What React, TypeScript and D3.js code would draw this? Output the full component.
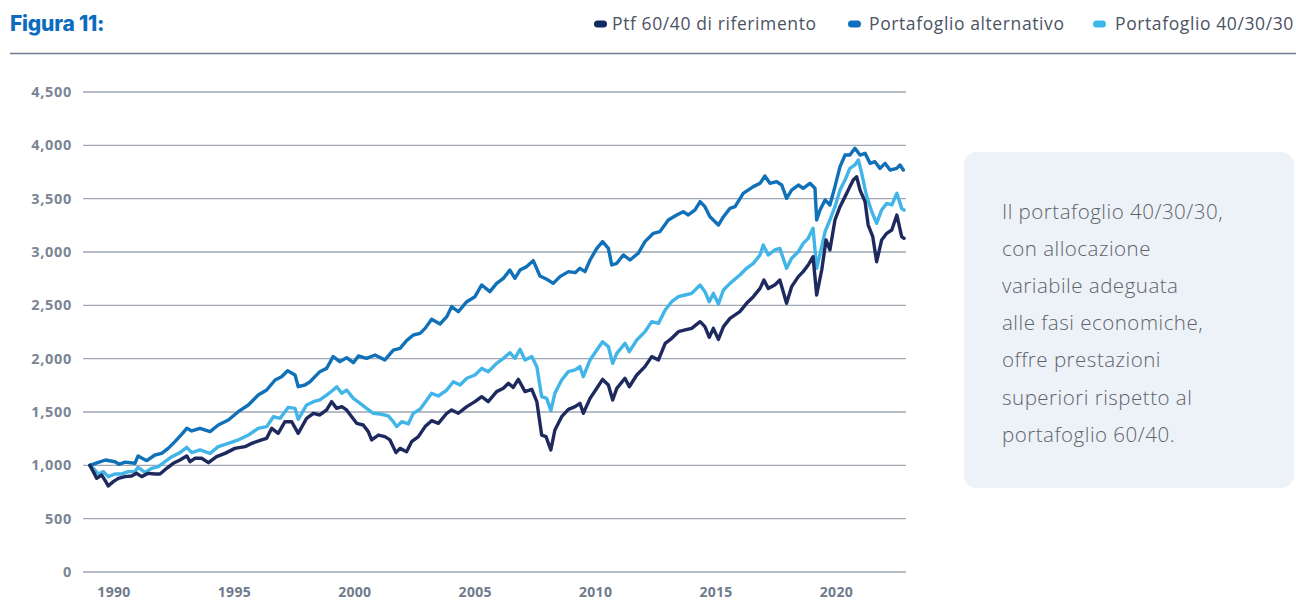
import React from 'react';
import * as d3 from 'd3';

const title = 'Figura 11:';
const seriesNames = ['Ptf 60/40 di riferimento', 'Portafoglio alternativo', 'Portafoglio 40/30/30'];
const seriesColors = ['#1e2a5e', '#1070b8', '#42b5e8'];
const legendColors = ['#13295f', '#0f6fbe', '#3bb8ee'];
const yTicks = [0, 500, 1000, 1500, 2000, 2500, 3000, 3500, 4000, 4500];
const xTicks = [1990, 1995, 2000, 2005, 2010, 2015, 2020];
const noteLines = [
  'Il portafoglio 40/30/30,',
  'con allocazione',
  'variabile adeguata',
  'alle fasi economiche,',
  'offre prestazioni',
  'superiori rispetto al',
  'portafoglio 60/40.',
];

// [decimal year, value]
const p6040: [number, number][] = [
  [1989.0, 1000], [1989.14, 941], [1989.28, 878], [1989.49, 909], [1989.66, 847], [1989.76, 806],
  [1989.97, 847], [1990.18, 878], [1990.46, 894], [1990.73, 900], [1990.94, 925], [1991.15, 894],
  [1991.42, 925], [1991.7, 919], [1991.91, 919], [1992.19, 972], [1992.46, 1019], [1992.74, 1050],
  [1993.02, 1088], [1993.16, 1034], [1993.36, 1066], [1993.64, 1066], [1993.92, 1025], [1994.26, 1081],
  [1994.61, 1112], [1995.02, 1159], [1995.44, 1175], [1995.72, 1206], [1996.13, 1238], [1996.34, 1253],
  [1996.55, 1347], [1996.82, 1300], [1997.1, 1409], [1997.38, 1409], [1997.65, 1300], [1998.0, 1441],
  [1998.28, 1488], [1998.55, 1472], [1998.83, 1519], [1999.04, 1597], [1999.25, 1534], [1999.46, 1550],
  [1999.66, 1519], [1999.87, 1456], [2000.08, 1394], [2000.35, 1378], [2000.56, 1316], [2000.7, 1238],
  [2000.98, 1284], [2001.25, 1269], [2001.46, 1238], [2001.71, 1119], [2001.88, 1159], [2002.15, 1128],
  [2002.36, 1222], [2002.64, 1269], [2002.92, 1363], [2003.19, 1419], [2003.47, 1394], [2003.82, 1488],
  [2004.02, 1519], [2004.3, 1488], [2004.65, 1550], [2004.99, 1597], [2005.27, 1644], [2005.54, 1597],
  [2005.89, 1691], [2006.17, 1722], [2006.38, 1769], [2006.58, 1731], [2006.79, 1806], [2007.07, 1691],
  [2007.35, 1713], [2007.56, 1597], [2007.76, 1284], [2007.94, 1269], [2008.14, 1144], [2008.31, 1331],
  [2008.59, 1456], [2008.87, 1525], [2009.15, 1550], [2009.35, 1581], [2009.49, 1488], [2009.77, 1628],
  [2010.05, 1722], [2010.29, 1806], [2010.53, 1753], [2010.71, 1613], [2010.88, 1722], [2011.22, 1816],
  [2011.4, 1737], [2011.71, 1847], [2012.05, 1925], [2012.33, 2019], [2012.61, 1988], [2012.89, 2144],
  [2013.16, 2191], [2013.44, 2253], [2013.72, 2269], [2013.99, 2284], [2014.34, 2347], [2014.54, 2300],
  [2014.72, 2200], [2014.89, 2284], [2015.1, 2181], [2015.31, 2300], [2015.58, 2378], [2015.99, 2441],
  [2016.27, 2519], [2016.55, 2581], [2016.83, 2659], [2016.99, 2738], [2017.17, 2659], [2017.44, 2691],
  [2017.65, 2738], [2017.93, 2519], [2018.14, 2675], [2018.42, 2769], [2018.62, 2816], [2018.83, 2878],
  [2019.03, 2956], [2019.18, 2597], [2019.39, 2831], [2019.57, 3113], [2019.73, 3019], [2019.94, 3300],
  [2020.15, 3425], [2020.36, 3519], [2020.56, 3613], [2020.7, 3675], [2020.84, 3706], [2020.98, 3581],
  [2021.19, 3472], [2021.32, 3253], [2021.51, 3144], [2021.67, 2909], [2021.88, 3113], [2022.09, 3175],
  [2022.3, 3206], [2022.51, 3347], [2022.71, 3144], [2022.81, 3128],
];

const alternativo: [number, number][] = [
  [1989.0, 1000], [1989.35, 1028], [1989.65, 1050], [1990.04, 1034], [1990.2, 1010], [1990.46, 1030],
  [1990.87, 1019], [1991.0, 1088], [1991.36, 1044], [1991.7, 1097], [1991.98, 1112], [1992.25, 1159],
  [1992.53, 1222], [1992.81, 1290], [1993.02, 1347], [1993.23, 1322], [1993.57, 1347], [1993.99, 1316],
  [1994.33, 1378], [1994.75, 1425], [1995.16, 1503], [1995.58, 1566], [1995.99, 1659], [1996.34, 1706],
  [1996.69, 1800], [1996.96, 1831], [1997.21, 1887], [1997.52, 1847], [1997.65, 1737], [1997.93, 1753],
  [1998.14, 1784], [1998.55, 1878], [1998.83, 1909], [1999.1, 2019], [1999.38, 1972], [1999.66, 2009],
  [1999.94, 1963], [2000.15, 2025], [2000.49, 2003], [2000.84, 2034], [2001.25, 1988], [2001.6, 2081],
  [2001.88, 2097], [2002.15, 2169], [2002.43, 2222], [2002.71, 2237], [2002.92, 2284], [2003.19, 2369],
  [2003.54, 2325], [2003.82, 2394], [2004.02, 2488], [2004.3, 2440], [2004.65, 2534], [2004.99, 2581],
  [2005.27, 2691], [2005.61, 2628], [2005.89, 2706], [2006.17, 2753], [2006.44, 2831], [2006.65, 2753],
  [2006.86, 2831], [2007.14, 2863], [2007.41, 2919], [2007.69, 2775], [2007.97, 2744], [2008.24, 2706],
  [2008.52, 2769], [2008.87, 2816], [2009.15, 2806], [2009.35, 2847], [2009.56, 2816], [2009.77, 2925],
  [2010.05, 3034], [2010.29, 3097], [2010.53, 3034], [2010.67, 2878], [2010.88, 2894], [2011.15, 2972],
  [2011.43, 2925], [2011.77, 2988], [2012.05, 3097], [2012.4, 3175], [2012.67, 3191], [2013.02, 3300],
  [2013.37, 3347], [2013.64, 3378], [2013.85, 3347], [2014.13, 3394], [2014.34, 3472], [2014.54, 3425],
  [2014.75, 3331], [2015.1, 3253], [2015.31, 3331], [2015.58, 3409], [2015.79, 3425], [2016.13, 3550],
  [2016.55, 3613], [2016.83, 3644], [2017.03, 3713], [2017.24, 3644], [2017.52, 3659], [2017.73, 3628],
  [2017.93, 3503], [2018.14, 3581], [2018.42, 3628], [2018.62, 3597], [2018.9, 3644], [2019.11, 3597],
  [2019.18, 3300], [2019.32, 3394], [2019.53, 3488], [2019.73, 3441], [2019.94, 3613], [2020.15, 3800],
  [2020.36, 3909], [2020.56, 3909], [2020.77, 3972], [2020.98, 3909], [2021.19, 3925], [2021.4, 3831],
  [2021.6, 3847], [2021.81, 3784], [2022.02, 3831], [2022.23, 3769], [2022.51, 3784], [2022.64, 3816],
  [2022.78, 3769],
];

const p403030: [number, number][] = [
  [1989.0, 1000], [1989.14, 972], [1989.35, 919], [1989.56, 941], [1989.76, 894], [1990.04, 919],
  [1990.32, 919], [1990.6, 941], [1990.87, 941], [1991.0, 981], [1991.29, 934], [1991.57, 972],
  [1991.84, 988], [1992.12, 1034], [1992.4, 1081], [1992.74, 1119], [1993.02, 1169], [1993.23, 1119],
  [1993.57, 1144], [1993.99, 1112], [1994.33, 1175], [1994.75, 1206], [1995.16, 1238], [1995.58, 1284],
  [1995.99, 1347], [1996.34, 1363], [1996.62, 1456], [1996.9, 1441], [1997.24, 1544], [1997.52, 1534],
  [1997.65, 1431], [1997.72, 1456], [1998.0, 1566], [1998.28, 1597], [1998.55, 1613], [1998.83, 1659],
  [1999.1, 1706], [1999.25, 1737], [1999.46, 1675], [1999.66, 1706], [1999.94, 1628], [2000.22, 1581],
  [2000.49, 1534], [2000.77, 1488], [2001.05, 1481], [2001.39, 1463], [2001.6, 1409], [2001.74, 1363],
  [2001.95, 1409], [2002.22, 1388], [2002.43, 1488], [2002.71, 1525], [2002.99, 1613], [2003.19, 1675],
  [2003.47, 1650], [2003.82, 1706], [2004.09, 1784], [2004.37, 1753], [2004.65, 1816], [2004.99, 1847],
  [2005.27, 1909], [2005.54, 1878], [2005.89, 1956], [2006.17, 2003], [2006.44, 2056], [2006.65, 2003],
  [2006.86, 2088], [2007.07, 1988], [2007.35, 2019], [2007.56, 1925], [2007.76, 1644], [2007.97, 1628],
  [2008.14, 1513], [2008.31, 1675], [2008.59, 1800], [2008.87, 1878], [2009.15, 1894], [2009.35, 1925],
  [2009.49, 1831], [2009.77, 1988], [2010.05, 2081], [2010.29, 2159], [2010.53, 2113], [2010.71, 1956],
  [2010.88, 2050], [2011.22, 2144], [2011.4, 2066], [2011.71, 2175], [2012.05, 2253], [2012.33, 2347],
  [2012.61, 2331], [2012.89, 2456], [2013.16, 2534], [2013.44, 2581], [2013.72, 2597], [2013.99, 2612],
  [2014.34, 2691], [2014.54, 2628], [2014.72, 2534], [2014.89, 2612], [2015.1, 2513], [2015.31, 2644],
  [2015.58, 2706], [2015.99, 2784], [2016.27, 2847], [2016.55, 2894], [2016.83, 2972], [2016.96, 3066],
  [2017.17, 2972], [2017.44, 3019], [2017.65, 3034], [2017.93, 2847], [2018.14, 2941], [2018.42, 3003],
  [2018.62, 3081], [2018.83, 3128], [2019.03, 3222], [2019.18, 2847], [2019.39, 3050], [2019.53, 3191],
  [2019.73, 3300], [2019.94, 3425], [2020.15, 3581], [2020.36, 3675], [2020.56, 3784], [2020.77, 3816],
  [2020.91, 3863], [2021.05, 3738], [2021.26, 3519], [2021.47, 3378], [2021.67, 3269], [2021.88, 3394],
  [2022.09, 3456], [2022.3, 3441], [2022.51, 3550], [2022.71, 3409], [2022.81, 3394],
];

const seriesData = [p6040, alternativo, p403030];

export default function App() {
  const W = 1296;
  const H = 601;
  const plotLeft = 83;
  const plotRight = 906;
  const x = d3.scaleLinear().domain([1988.713, 2022.89]).range([plotLeft, plotRight]);
  const y = d3.scaleLinear().domain([0, 4500]).range([572, 92]);
  const line = d3
    .line<[number, number]>()
    .x((d) => x(d[0]))
    .y((d) => y(d[1]))
    .curve(d3.curveLinear);
  const fmt = d3.format(',');

  const legendX = [594, 848, 1093];
  const legendTextX = [612, 869, 1115];
  const drawOrder = [2, 1, 0];

  const labelFont = "'Open Sans', sans-serif";

  return (
    <svg
      width={W}
      height={H}
      viewBox={`0 0 ${W} ${H}`}
      style={{ position: 'absolute', left: 0, top: 0, background: '#fff' }}
    >
      <text x={10} y={31} fontFamily="Inter, sans-serif" fontWeight={800} fontSize={21} fill="#0b6cbf" letterSpacing={-0.2}>
        {title}
      </text>
      {seriesNames.map((name, i) => (
        <g key={name}>
          <rect x={legendX[i]} y={20.5} width={13} height={7} rx={3.5} fill={legendColors[i]} />
          <text x={legendTextX[i]} y={30} fontFamily={labelFont} fontSize={17.5} letterSpacing={0.6} fill="#4b5363">
            {name}
          </text>
        </g>
      ))}
      <line x1={10} x2={1296} y1={53.5} y2={53.5} stroke="#6e7c8f" strokeWidth={1.3} />

      {yTicks.map((t) => (
        <g key={t}>
          <line x1={plotLeft} x2={plotRight} y1={y(t)} y2={y(t)} stroke="#9ea7b2" strokeWidth={1.3} />
          <text
            x={72}
            y={y(t)}
            dy="0.35em"
            textAnchor="end"
            fontFamily={labelFont}
            fontWeight={700}
            fontSize={14.5}
            letterSpacing={0.7}
            fill="#7a8595"
          >
            {fmt(t)}
          </text>
        </g>
      ))}
      {xTicks.map((t) => (
        <text
          key={t}
          x={x(t)}
          y={596.5}
          textAnchor="middle"
          fontFamily={labelFont}
          fontWeight={700}
          fontSize={14}
          letterSpacing={0.3}
          fill="#6f7b8c"
        >
          {t}
        </text>
      ))}

      {drawOrder.map((i) => (
        <path
          key={seriesNames[i]}
          d={line(seriesData[i]) || ''}
          fill="none"
          stroke={seriesColors[i]}
          strokeWidth={3.4}
          strokeLinejoin="round"
          strokeLinecap="round"
        />
      ))}

      <rect x={964} y={152} width={330} height={336} rx={13} fill="#edf2f8" />
      {noteLines.map((l, i) => (
        <text
          key={i}
          x={1002}
          y={219 + i * 37.1}
          fontFamily={labelFont}
          fontSize={20.5}
          fontWeight={300}
          letterSpacing={0.5}
          fill="#5d636b"
        >
          {l}
        </text>
      ))}
    </svg>
  );
}
